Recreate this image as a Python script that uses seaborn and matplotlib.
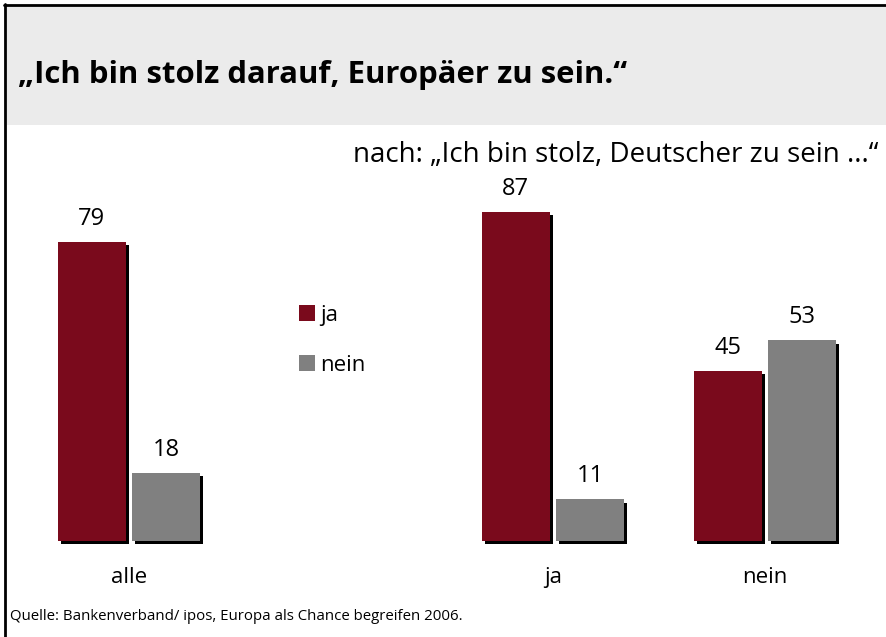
import matplotlib.pyplot as plt
import matplotlib.patheffects as pe
from matplotlib.patches import Patch, Rectangle
from matplotlib.lines import Line2D
import pandas as pd
import seaborn as sns

groups = ["alle", "ja", "nein"]
ja_values = [79, 87, 45]
nein_values = [18, 11, 53]
series = ["ja", "nein"]
colors = ["#7a0a1c", "#808080"]
order = ["alle", "", "ja", "nein"]  # leerer Platz für die Legende

df = pd.DataFrame({
    "Gruppe": groups * 2,
    "Antwort": [series[0]] * len(groups) + [series[1]] * len(groups),
    "Wert": ja_values + nein_values,
})

sns.set_theme(style="white")
plt.rcParams['font.family'] = ['Open Sans', 'DejaVu Sans']
plt.rcParams['text.color'] = 'black'
plt.rcParams['xtick.color'] = 'black'

W, H = 887, 637
fig = plt.figure(figsize=(W / 100, H / 100), dpi=100)

# grauer Titelbalken + Rahmen
fig.patches.append(Rectangle((7 / W, 1 - 125 / H), 1, 119 / H, transform=fig.transFigure,
                             facecolor="#ebebeb", edgecolor="none", zorder=0))
fig.lines.append(Line2D([4 / W, 1], [1 - 5 / H, 1 - 5 / H], transform=fig.transFigure,
                        color="black", lw=2))
fig.lines.append(Line2D([5.5 / W, 5.5 / W], [0, 1 - 4 / H], transform=fig.transFigure,
                        color="black", lw=2))

ax = fig.add_axes([23 / W, (H - 541) / H, 848 / W, 378.5 / H])
sns.barplot(data=df, x="Gruppe", y="Wert", hue="Antwort", order=order, hue_order=series,
            palette=colors, width=0.7, gap=0.08, saturation=1, legend=False,
            linewidth=0, ax=ax)

shadow = [pe.SimplePatchShadow(offset=(2.3, -2.3), shadow_rgbFace="black", alpha=1), pe.Normal()]
for cont in ax.containers:
    for p in cont.patches:
        p.set_path_effects(shadow)
        p.set_clip_on(False)
    ax.bar_label(cont, fmt="%d", padding=8, fontsize=17)

ax.set_ylim(0, 100)
ax.set_xlim(-0.5, 3.5)
ax.set_xlabel("")
ax.set_ylabel("")
ax.set_yticks([])
ax.tick_params(axis="x", length=0, pad=19, labelsize=16)
for s in ax.spines.values():
    s.set_visible(False)
ax.set_facecolor("none")

handles = [Patch(facecolor=c, edgecolor="none") for c in colors]
fig.legend(handles, series, loc="upper left", bbox_to_anchor=(279 / W, 1 - 285 / H),
           frameon=False, fontsize=16, handlelength=0.7, handleheight=0.7,
           handletextpad=0.25, labelspacing=1.3)

fig.text(18 / W, 1 - 75 / H, "„Ich bin stolz darauf, Europäer zu sein.“", fontsize=22.4,
         fontweight="bold", va="center", ha="left")
fig.text(878 / W, 1 - 155 / H, "nach: „Ich bin stolz, Deutscher zu sein ...“", fontsize=20,
         va="center", ha="right")
fig.text(10 / W, 1 - 617 / H, "Quelle: Bankenverband/ ipos, Europa als Chance begreifen 2006.",
         fontsize=10.8, va="center", ha="left")

fig.savefig("out.png", dpi=100)
